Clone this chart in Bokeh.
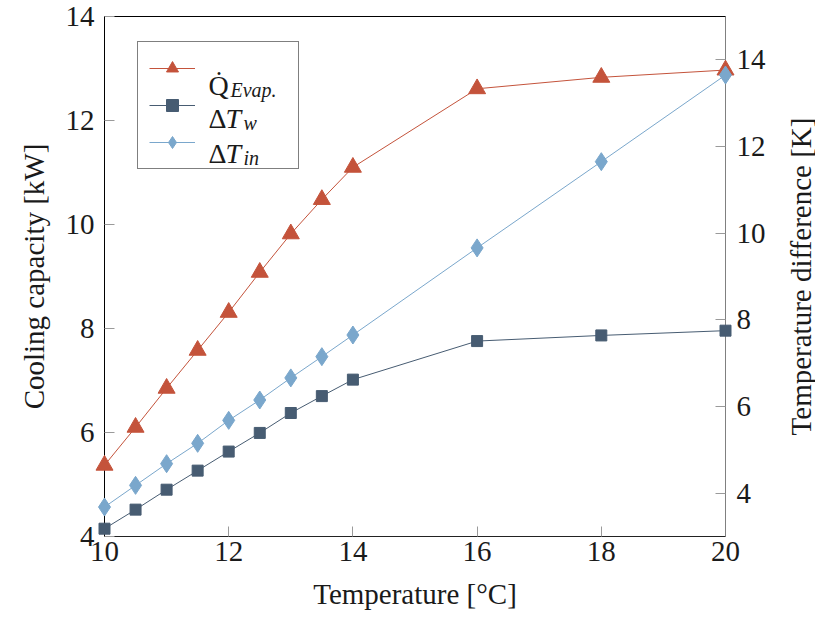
import math
from bokeh.plotting import figure
from bokeh.models import Range1d, LinearAxis, Legend, LegendItem, FixedTicker
from bokeh.core.properties import value
from bokeh.embed import file_html
from bokeh.resources import INLINE

# ---- data ----
temperature = [10, 10.5, 11, 11.5, 12, 12.5, 13, 13.5, 14, 16, 18, 20]
q_evap = [5.37, 6.10, 6.85, 7.58, 8.31, 9.08, 9.82, 10.48, 11.10, 12.61, 12.83, 12.97]   # kW, left axis
dT_w = [3.18, 3.62, 4.08, 4.52, 4.96, 5.39, 5.85, 6.24, 6.62, 7.51, 7.64, 7.75]          # K, right axis
dT_in = [3.68, 4.18, 4.68, 5.15, 5.68, 6.15, 6.66, 7.15, 7.65, 9.66, 11.65, 13.65]       # K, right axis

x_ticks = [10, 12, 14, 16, 18, 20]
left_ticks = [4, 6, 8, 10, 12, 14]
right_ticks = [4, 6, 8, 10, 12, 14]

RED = "#c4533b"
DARK = "#475c72"
LIGHT = "#7aa7cc"
FONT = "Liberation Serif"
FS = "29px"

W, H = 815, 618
BL, BR, BT, BB = 104, 90, 16, 82
XMIN, XMAX, YMIN, YMAX = 10, 20, 4, 14

p = figure(width=W, height=H, output_backend="svg", toolbar_location=None,
           x_range=Range1d(XMIN, XMAX), y_range=Range1d(YMIN, YMAX),
           min_border_left=BL, min_border_right=BR, min_border_top=BT, min_border_bottom=BB)
p.extra_y_ranges = {"right": Range1d(3, 15)}
p.xgrid.visible = False
p.ygrid.visible = False
p.outline_line_color = "black"
p.outline_line_width = 1
p.background_fill_color = "white"
p.border_fill_color = "white"

FW = W - BL - BR
FH = H - BT - BB


def dx(px):
    """canvas pixel x -> data x"""
    return XMIN + (px - BL) * (XMAX - XMIN) / FW


def dy(py):
    """canvas pixel y -> left-axis data y"""
    return YMIN + (H - BB - py) * (YMAX - YMIN) / FH


def style_axis(ax, line_color):
    ax.axis_line_color = line_color
    ax.axis_line_width = 1
    ax.major_tick_in = 10
    ax.major_tick_out = 0
    ax.major_tick_line_color = "#9a9a9a"
    ax.minor_tick_line_color = None
    ax.major_label_text_font = FONT
    ax.major_label_text_font_size = FS
    ax.major_label_text_color = "#1a1a1a"
    ax.axis_label_text_font = FONT
    ax.axis_label_text_font_size = FS
    ax.axis_label_text_font_style = "normal"
    ax.axis_label_text_color = "#1a1a1a"


xa = p.xaxis[0]
xa.ticker = FixedTicker(ticks=x_ticks)
xa.axis_label = "Temperature [°C]"
style_axis(xa, "#222222")
xa.major_label_standoff = 5
xa.axis_label_standoff = 14

ya = p.yaxis[0]
ya.ticker = FixedTicker(ticks=left_ticks)
ya.axis_label = "Cooling capacity [kW]"
style_axis(ya, "black")
ya.major_label_standoff = 10
ya.axis_label_standoff = 13

ra = LinearAxis(y_range_name="right", ticker=FixedTicker(ticks=right_ticks))
style_axis(ra, "#808080")
ra.major_label_standoff = 11
p.add_layout(ra, "right")

# ---- series ----
lq = p.line(temperature, q_evap, line_color=RED, line_width=1, level="overlay")
sq = p.scatter(temperature, q_evap, marker="triangle", size=17, color=RED, level="overlay")

lw = p.line(temperature, dT_w, line_color=DARK, line_width=1, y_range_name="right", level="overlay")
sw = p.scatter(temperature, dT_w, marker="square", size=11, color=DARK, y_range_name="right", level="overlay")

li = p.line(temperature, dT_in, line_color=LIGHT, line_width=1, y_range_name="right", level="overlay")
si = p.scatter(temperature, dT_in, marker="diamond", size=18, color=LIGHT, y_range_name="right", level="overlay")

legend = Legend(items=[LegendItem(label=" ", renderers=[lq, sq]),
                       LegendItem(label=" ", renderers=[lw, sw]),
                       LegendItem(label=" ", renderers=[li, si])],
                location=(33, 367), glyph_width=46, glyph_height=30, label_height=30,
                spacing=7, padding=11, label_standoff=17, label_width=75, margin=0,
                border_line_color="black", border_line_width=1,
                background_fill_alpha=0,
                label_text_font=FONT, label_text_font_size="22px")
p.add_layout(legend)


def txt(t, px, py, size, style="normal", angle=0.0, align="left", baseline="alphabetic"):
    p.text(x=[dx(px)], y=[dy(py)], text=[t], angle=angle,
           text_font=value(FONT), text_font_size=value(size), text_font_style=style,
           text_color="#1a1a1a", text_align=align, text_baseline=baseline,
           level="overlay")


# legend texts (mixed upright / italic / subscript)
txt("Q\u0307", 208, 85, "28px")
txt("Evap.", 230, 89, "20px", "italic")
txt("\u0394", 208, 118, "28px")
txt("T", 225, 118, "28px", "italic")
txt("w", 243, 122, "20px", "italic")
txt("\u0394", 208, 153, "28px")
txt("T", 225, 153, "28px", "italic")
txt("in", 243, 157, "20px", "italic")

# right axis title, reading bottom-to-top
txt("Temperature difference [K]", 800, (BT + H - BB) / 2, FS, angle=math.pi / 2,
    align="center", baseline="middle")

open("out.html", "w").write(file_html(p, INLINE))
